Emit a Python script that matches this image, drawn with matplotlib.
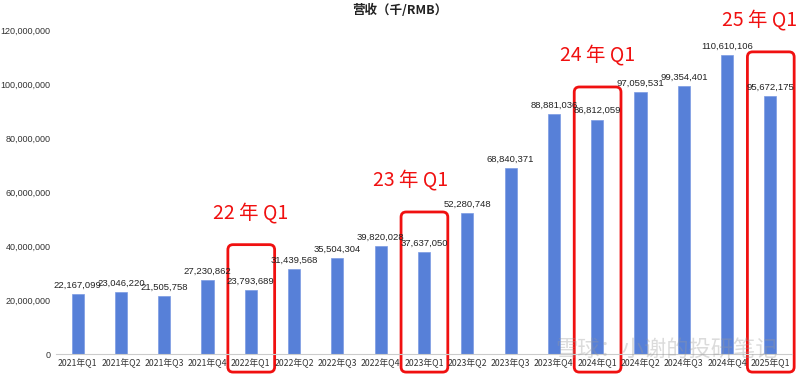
import matplotlib
matplotlib.use("Agg")
import matplotlib.pyplot as plt
from matplotlib.patches import FancyBboxPatch
from matplotlib.ticker import FuncFormatter

plt.rcParams['font.family'] = ['Noto Sans CJK SC', 'DejaVu Sans']

quarters = ["2021年Q1", "2021年Q2", "2021年Q3", "2021年Q4",
            "2022年Q1", "2022年Q2", "2022年Q3", "2022年Q4",
            "2023年Q1", "2023年Q2", "2023年Q3", "2023年Q4",
            "2024年Q1", "2024年Q2", "2024年Q3", "2024年Q4",
            "2025年Q1"]
revenue = [22167099, 23046220, 21505758, 27230862,
           23793689, 31439568, 35504304, 39820028,
           37637050, 52280748, 68840371, 88881036,
           86812059, 97059531, 99354401, 110610106,
           95672175]

# highlighted Q1 bars: (index, label, top of box in data units, label shift)
highlights = [(4, "22 年 Q1", 40.5e6, 0.0), (8, "23 年 Q1", 52.6e6, -0.3),
              (12, "24 年 Q1", 98.9e6, 0.0), (16, "25 年 Q1", 111.9e6, -0.25)]

bar_color = "#5780D8"

fig = plt.figure(figsize=(8, 3.75), dpi=100)
ax = fig.add_axes([0.07, 0.056, 0.92, 0.864])

x = list(range(len(quarters)))
ax.bar(x, revenue, width=0.28, color=bar_color, edgecolor="#7C9BE3", linewidth=0.5)

for i, v in zip(x, revenue):
    ax.text(i, v + 1.6e6, f"{v:,}", ha="center", va="bottom", fontsize=6.8,
            color="#222222", family=["Liberation Sans"])

ax.set_xlim(-0.5, len(quarters) - 0.5)
ax.set_ylim(0, 120e6)
ax.set_yticks([0, 20e6, 40e6, 60e6, 80e6, 100e6, 120e6])
ax.yaxis.set_major_formatter(FuncFormatter(lambda v, p: f"{int(v):,}"))
ax.set_xticks(x)
ax.set_xticklabels(quarters)
for lab in ax.get_yticklabels():
    lab.set_family(["Liberation Sans"])
ax.tick_params(axis="y", length=0, labelsize=6.5, labelcolor="#333333", pad=4)
ax.tick_params(axis="x", length=0, labelsize=6.3, labelcolor="#333333", pad=3)
for s in ["top", "right", "left"]:
    ax.spines[s].set_visible(False)
ax.spines["bottom"].set_color("#cccccc")

fig.text(0.5, 0.972, "营收（千/RMB）", ha="center", va="center", fontsize=9,
         fontweight="bold", color="#222222")

# red rounded boxes around Q1 bars
fig.canvas.draw()
px_x = ax.transData.transform((1, 0))[0] - ax.transData.transform((0, 0))[0]
px_y = ax.transData.transform((0, 1e6))[1] - ax.transData.transform((0, 0))[1]
aspect = px_x / (px_y / 1e6)
bottom = -6.7e6
for idx, label, top, shift in highlights:
    left, right = idx - 0.53, idx + 0.55
    box = FancyBboxPatch((left, bottom), right - left, top - bottom,
                         boxstyle="round,pad=0,rounding_size=0.12",
                         mutation_aspect=aspect, fill=False,
                         edgecolor="#f01010", linewidth=2, clip_on=False)
    ax.add_patch(box)
    ax.text(idx + shift, top + 8e6, label, ha="center", va="bottom", fontsize=14,
            color="#f01010")

ax.text(0.83, 0.015, "雪球：小谢的投研笔记", transform=ax.transAxes, ha="center",
        va="center", fontsize=16, color="#999999", alpha=0.35)

fig.savefig("out.png", dpi=100)
